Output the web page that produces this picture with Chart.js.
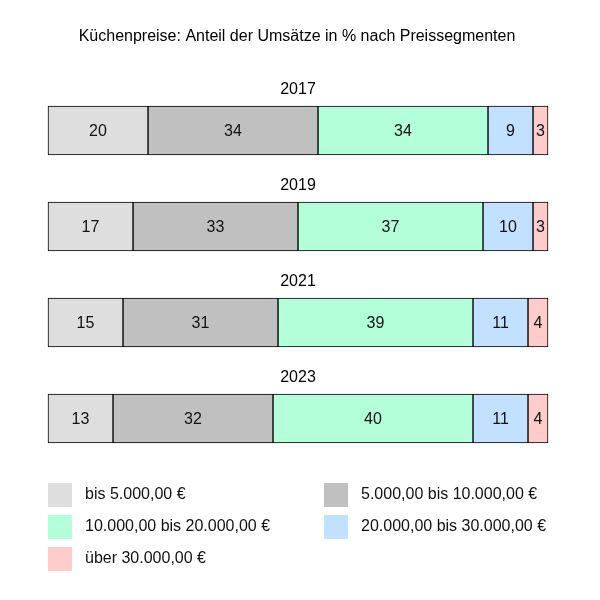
<!DOCTYPE html>
<html>
<head>
<meta charset="utf-8">
<script src="https://cdn.jsdelivr.net/npm/chart.js@4"></script>
<style>
  html, body { margin: 0; padding: 0; background: #fff; }
  #wrap { position: relative; width: 600px; height: 600px; }
</style>
</head>
<body>
<div id="wrap"><canvas id="chart" width="600" height="600"></canvas></div>
<script>
// Data
const chartTitle = "Küchenpreise: Anteil der Umsätze in % nach Preissegmenten";
const years = ["2017", "2019", "2021", "2023"];
const segments = [
  "bis 5.000,00 €",
  "5.000,00 bis 10.000,00 €",
  "10.000,00 bis 20.000,00 €",
  "20.000,00 bis 30.000,00 €",
  "über 30.000,00 €"
];
const bis5k = [20, 17, 15, 13];
const from5to10k = [34, 33, 31, 32];
const from10to20k = [34, 37, 39, 40];
const from20to30k = [9, 10, 11, 11];
const over30k = [3, 3, 4, 4];
const segmentColors = ["#dedede", "#c0c0c0", "#b3ffd9", "#c2e0ff", "#ffcccc"];

const FONT = "'Liberation Sans', Arial, sans-serif";
const seriesValues = [bis5k, from5to10k, from10to20k, from20to30k, over30k];

// draws title, year labels, value labels and legend
const decorations = {
  id: "decorations",
  afterDatasetsDraw(chart) {
    const ctx = chart.ctx;
    const area = chart.chartArea;
    const yScale = chart.scales.y;
    ctx.save();
    ctx.fillStyle = "#000";
    ctx.font = "16px " + FONT;
    ctx.textAlign = "center";
    ctx.textBaseline = "middle";
    ctx.fillText(chartTitle, 297, 37);

    // year labels above each bar
    years.forEach((yr, i) => {
      const y = yScale.getPixelForValue(i);
      ctx.fillText(yr, (area.left + area.right) / 2, y - 24.5 - 16);
    });

    // value labels
    chart.data.datasets.forEach((ds, di) => {
      chart.getDatasetMeta(di).data.forEach((bar, i) => {
        ctx.fillStyle = "#111";
        ctx.fillText(String(ds.data[i]), (bar.x + bar.base) / 2, bar.y + 1);
      });
    });

    // legend, two columns
    segments.forEach((label, i) => {
      const col = i % 2, row = Math.floor(i / 2);
      const x = 48 + col * 276, y = 483 + row * 32;
      ctx.fillStyle = segmentColors[i];
      ctx.fillRect(x, y, 24, 24);
      ctx.fillStyle = "#111";
      ctx.textAlign = "left";
      ctx.fillText(label, x + 37, y + 12);
    });
    ctx.restore();
  }
};

new Chart(document.getElementById("chart"), {
  type: "bar",
  data: {
    labels: years,
    datasets: segments.map((name, i) => ({
      label: name,
      data: seriesValues[i],
      backgroundColor: segmentColors[i],
      borderColor: "#000",
      borderWidth: 1,
      borderSkipped: false,
      barThickness: 49,
      clip: false
    }))
  },
  options: {
    indexAxis: "y",
    responsive: false,
    animation: false,
    layout: { padding: { left: 48, right: 52, top: 82.5, bottom: 133.5 } },
    scales: {
      x: { stacked: true, min: 0, max: 100, display: false },
      y: { stacked: true, display: false }
    },
    plugins: { legend: { display: false }, tooltip: { enabled: false }, title: { display: false } }
  },
  plugins: [decorations]
});
</script>
</body>
</html>
